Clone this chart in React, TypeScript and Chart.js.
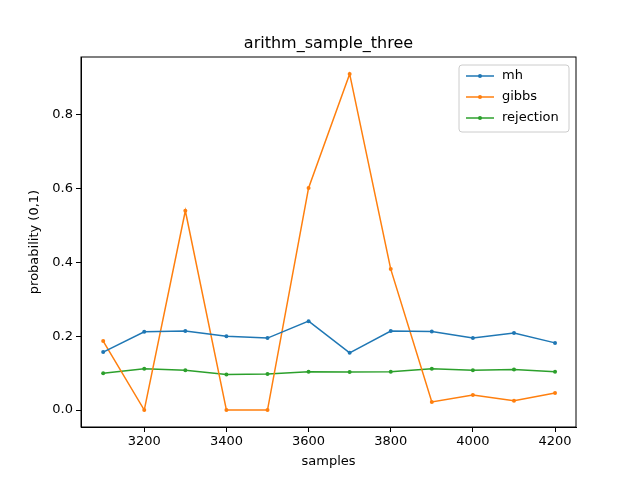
import { useEffect, useRef } from 'react'
import { Chart, registerables, type Plugin } from 'chart.js'

Chart.register(...registerables)

const samples = [3100, 3200, 3300, 3400, 3500, 3600, 3700, 3800, 3900, 4000, 4100, 4200]
const mh = [0.157, 0.212, 0.214, 0.2, 0.195, 0.241, 0.155, 0.214, 0.213, 0.195, 0.209, 0.182]
const gibbs = [0.187, 0.0, 0.54, 0.0, 0.0, 0.602, 0.911, 0.382, 0.022, 0.041, 0.025, 0.046]
const rejection = [0.1, 0.112, 0.108, 0.096, 0.098, 0.104, 0.103, 0.104, 0.112, 0.108, 0.11, 0.104]
const xTicks = [3200, 3400, 3600, 3800, 4000, 4200]
const yTicks = [0, 0.2, 0.4, 0.6, 0.8]

const FONT = 'DejaVu Sans'
const series = [
  { label: 'mh', data: mh, color: '#1f77b4' },
  { label: 'gibbs', data: gibbs, color: '#ff7f0e' },
  { label: 'rejection', data: rejection, color: '#2ca02c' },
]

const frame: Plugin = {
  id: 'frame',
  afterDraw(chart) {
    const { ctx, chartArea: a } = chart
    ctx.save()
    ctx.strokeStyle = '#000'
    ctx.lineWidth = 1
    ctx.strokeRect(a.left, a.top, a.right - a.left, a.bottom - a.top)
    ctx.fillStyle = '#000'
    ctx.font = `16px ${FONT}`
    ctx.textAlign = 'center'
    ctx.textBaseline = 'middle'
    ctx.fillText('arithm_sample_three', (a.left + a.right) / 2, 44)
    // axis titles
    ctx.font = `13px ${FONT}`
    ctx.fillText('samples', (a.left + a.right) / 2, 462)
    ctx.save()
    ctx.translate(35, (a.top + a.bottom) / 2)
    ctx.rotate(-Math.PI / 2)
    ctx.fillText('probability (0,1)', 0, 0)
    ctx.restore()
    // legend
    const x0 = 459, y0 = 65, w = 110, h = 67
    ctx.fillStyle = 'rgba(255,255,255,0.8)'
    ctx.strokeStyle = '#ccc'
    ctx.beginPath()
    ctx.roundRect(x0, y0, w, h, 3)
    ctx.fill()
    ctx.stroke()
    ctx.textAlign = 'left'
    series.forEach((s, i) => {
      const y = y0 + 11 + i * 21
      ctx.strokeStyle = s.color
      ctx.lineWidth = 1.5
      ctx.beginPath()
      ctx.moveTo(x0 + 7, y)
      ctx.lineTo(x0 + 35, y)
      ctx.stroke()
      ctx.fillStyle = s.color
      ctx.beginPath()
      ctx.arc(x0 + 21, y, 2, 0, Math.PI * 2)
      ctx.fill()
      ctx.fillStyle = '#000'
      ctx.fillText(s.label, x0 + 43, y)
    })
    ctx.restore()
  },
}

export default function App() {
  const canvasRef = useRef<HTMLCanvasElement>(null)

  useEffect(() => {
    if (!canvasRef.current) return
    const chart = new Chart(canvasRef.current, {
      type: 'line',
      data: {
        datasets: series.map((s) => ({
          label: s.label,
          data: samples.map((x, i) => ({ x, y: s.data[i] })),
          borderColor: s.color,
          backgroundColor: s.color,
          borderWidth: 1.5,
          pointRadius: 2,
          pointBorderWidth: 0,
          tension: 0,
        })),
      },
      options: {
        animation: false,
        responsive: false,
        layout: { padding: { top: 57, right: 64, left: 0, bottom: 0 } },
        plugins: { legend: { display: false }, tooltip: { enabled: false } },
        scales: {
          x: {
            type: 'linear',
            min: 3046,
            max: 4251,
            afterBuildTicks: (s) => { s.ticks = xTicks.map((v) => ({ value: v })) },
            afterFit: (s) => { s.height = 53 },
            grid: { drawOnChartArea: false, tickLength: 5, color: '#000' },
            border: { color: '#000' },
            ticks: { color: '#000', font: { family: FONT, size: 13 }, padding: 2, maxRotation: 0, callback: (v) => String(v) },
          },
          y: {
            min: -0.046,
            max: 0.957,
            afterBuildTicks: (s) => { s.ticks = yTicks.map((v) => ({ value: v })) },
            afterFit: (s) => { s.width = 81 },
            grid: { drawOnChartArea: false, tickLength: 5, color: '#000' },
            border: { color: '#000' },
            ticks: { color: '#000', font: { family: FONT, size: 13 }, padding: 3, callback: (v) => Number(v).toFixed(1) },
          },
        },
      },
      plugins: [frame],
    })
    return () => chart.destroy()
  }, [])

  return (
    <div style={{ position: 'absolute', left: 0, top: 0, width: 640, height: 480, background: '#fff' }}>
      <canvas ref={canvasRef} width={640} height={480} />
    </div>
  )
}
